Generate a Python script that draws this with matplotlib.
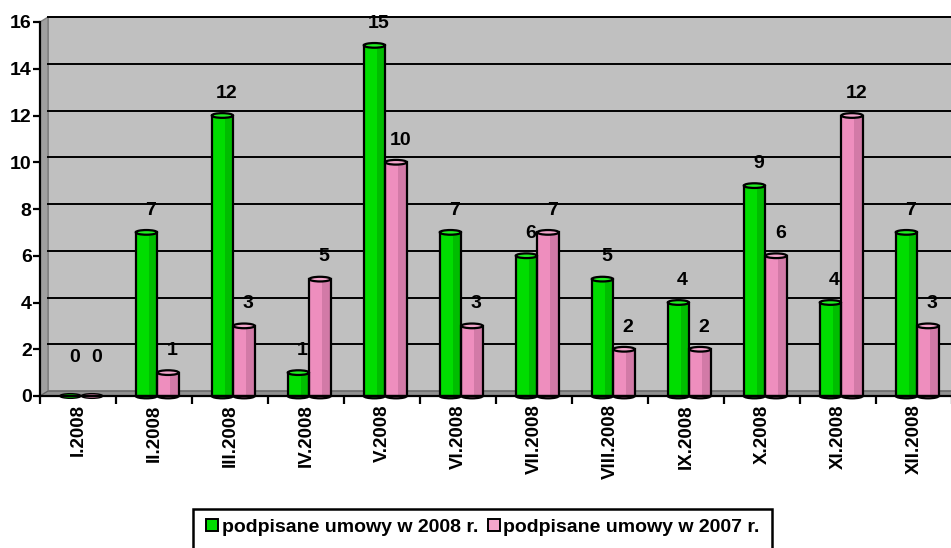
import matplotlib
matplotlib.use("Agg")
import matplotlib.pyplot as plt
from matplotlib.patches import Ellipse, Polygon, Rectangle
from matplotlib.lines import Line2D

plt.rcParams.update({"font.family": ["Liberation Sans", "DejaVu Sans"], "font.weight": "bold"})

MONTHS = ["I.2008", "II.2008", "III.2008", "IV.2008", "V.2008", "VI.2008",
          "VII.2008", "VIII.2008", "IX.2008", "X.2008", "XI.2008", "XII.2008"]
UMOWY_2008 = [0, 7, 12, 1, 15, 7, 6, 5, 4, 9, 4, 7]
UMOWY_2007 = [0, 1, 3, 5, 10, 3, 7, 2, 2, 6, 12, 3]
SERIES = ["podpisane umowy w 2008 r.", "podpisane umowy w 2007 r."]

GREEN, GREEN_D, GREEN_L = "#00DD00", "#00A800", "#22F022"
PINK, PINK_D, PINK_L = "#EE8EBE", "#C06E98", "#F4A6CC"
WALL, WALL_D = "#C0C0C0", "#808080"

fig = plt.figure(figsize=(9.51, 5.48), dpi=100)
ax = fig.add_axes([40 / 951, 152 / 548, 912 / 951, 374 / 548])
ax.set_xlim(-0.5, 11.5)
ax.set_ylim(0, 16)

# 3D depth offset (data units): ~8 px right, ~5 px up
dx, dy = 0.105, 0.21
ax.add_patch(Rectangle((-0.5 + dx, dy), 12, 16, facecolor=WALL, edgecolor=WALL_D,
                       lw=1.2, zorder=0, clip_on=False))
ax.add_patch(Polygon([(-0.5, 0), (-0.5 + dx, dy), (-0.5 + dx, 16 + dy), (-0.5, 16)],
                     closed=True, facecolor="#A0A0A0", edgecolor=WALL_D, lw=1, zorder=0.5,
                     clip_on=False))
ax.add_patch(Polygon([(-0.5, 0), (11.6, 0), (11.6 + dx, dy), (-0.5 + dx, dy)],
                     closed=True, facecolor="#909090", edgecolor="#606060", lw=0.8, zorder=0.5,
                     clip_on=False))
for v in range(2, 17, 2):
    ax.plot([-0.5 + dx, 11.6 + dx], [v + dy, v + dy], color="black", lw=1.4, zorder=0.6,
            clip_on=False)

w = 0.28
x = list(range(len(MONTHS)))
eh = 0.2
for vals, off, c, cd, cl in [(UMOWY_2008, -0.10, GREEN, GREEN_D, GREEN_L),
                             (UMOWY_2007, 0.185, PINK, PINK_D, PINK_L)]:
    xs = [i + off for i in x]
    ax.bar(xs, vals, width=w, color=c, edgecolor="none", zorder=2)
    ax.bar([xi + w * 0.3 for xi in xs], vals, width=w * 0.4, color=cd, edgecolor="none",
           zorder=2.1, alpha=0.6)
    ax.bar(xs, vals, width=w, color="none", edgecolor="black", lw=1.6, zorder=2.2)
    for xi, v in zip(xs, vals):
        ax.add_patch(Ellipse((xi, 0), w, eh, facecolor=c, edgecolor="black",
                             lw=1.6 if v > 0 else 1.0, zorder=1.9, clip_on=False))
        if v > 0:
            ax.add_patch(Ellipse((xi, v), w, eh, facecolor=cl, edgecolor="black", lw=1.6,
                                 zorder=2.3, clip_on=False))
        ax.annotate(str(v), (xi, max(v, 0.7)), xytext=(3, 16), textcoords="offset points",
                    ha="center", va="center", fontsize=14, fontweight="bold", zorder=3)

for s in ["top", "right"]:
    ax.spines[s].set_visible(False)
ax.spines["left"].set_linewidth(1.6)
ax.spines["bottom"].set_linewidth(1.6)
ax.spines["left"].set_zorder(5)
ax.spines["bottom"].set_zorder(5)

ax.set_yticks(range(0, 17, 2))
ax.set_yticklabels([str(v) for v in range(0, 17, 2)], fontsize=14, fontweight="bold")
ax.tick_params(axis="y", length=5, width=1.6, pad=1)

ax.set_xticks([i + 0.5 for i in range(-1, 12)])
ax.set_xticklabels([])
ax.tick_params(axis="x", which="major", length=6, width=1.6, direction="out")
ax.set_xticks(x, minor=True)
ax.set_xticklabels(MONTHS, minor=True, rotation=90, fontsize=13.5, fontweight="bold")
ax.tick_params(axis="x", which="minor", length=0, pad=6)

# legend frame runs past the bottom edge, as in the original
fig.add_artist(Rectangle((193 / 951, -0.02), (772 - 193) / 951, (548 - 509) / 548 + 0.02,
                         transform=fig.transFigure, facecolor="white", edgecolor="black",
                         lw=1.8, clip_on=False))
handles = [Line2D([], [], marker="s", ls="none", markersize=8.5, markerfacecolor=GREEN,
                  markeredgecolor="black", markeredgewidth=1.4),
           Line2D([], [], marker="s", ls="none", markersize=8.5, markerfacecolor=PINK_L,
                  markeredgecolor="black", markeredgewidth=1.4)]
leg = fig.legend(handles, SERIES, loc="center", bbox_to_anchor=(481 / 951, 1 - 527 / 548),
                 ncol=2, frameon=False, prop={"weight": "bold", "size": 14},
                 handletextpad=0.0, columnspacing=0.3, handlelength=1.0, borderpad=0)

fig.savefig("out.png", dpi=100)
